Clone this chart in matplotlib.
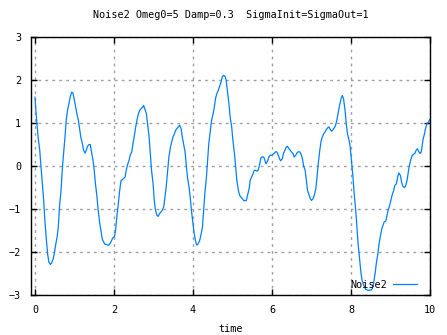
import matplotlib
matplotlib.use('Agg')
import matplotlib.pyplot as plt

# values
time = [
    0.00, 0.02, 0.05, 0.08, 0.12, 0.15, 0.18, 0.22, 0.25, 0.29, 0.32, 0.35, 0.39, 0.42, 0.46, 0.49,
    0.52, 0.56, 0.59, 0.62, 0.66, 0.69, 0.72, 0.76, 0.79, 0.83, 0.86, 0.89, 0.93, 0.96, 0.99, 1.03,
    1.06, 1.10, 1.13, 1.16, 1.20, 1.23, 1.27, 1.30, 1.33, 1.37, 1.40, 1.43, 1.47, 1.50, 1.53, 1.57,
    1.60, 1.64, 1.67, 1.70, 1.74, 1.77, 1.80, 1.84, 1.87, 1.91, 1.94, 1.97, 2.01, 2.04, 2.08, 2.11,
    2.14, 2.18, 2.21, 2.24, 2.28, 2.31, 2.34, 2.38, 2.41, 2.45, 2.48, 2.51, 2.55, 2.58, 2.62, 2.65,
    2.68, 2.72, 2.75, 2.78, 2.82, 2.85, 2.89, 2.92, 2.95, 2.99, 3.02, 3.05, 3.09, 3.12, 3.15, 3.19,
    3.22, 3.26, 3.29, 3.32, 3.36, 3.39, 3.43, 3.46, 3.49, 3.53, 3.56, 3.59, 3.63, 3.66, 3.70, 3.73,
    3.76, 3.80, 3.83, 3.86, 3.90, 3.93, 3.96, 4.00, 4.03, 4.07, 4.10, 4.13, 4.17, 4.20, 4.24, 4.27,
    4.30, 4.34, 4.37, 4.40, 4.44, 4.47, 4.51, 4.54, 4.57, 4.61, 4.64, 4.67, 4.71, 4.74, 4.77, 4.81,
    4.84, 4.87, 4.91, 4.94, 4.98, 5.01, 5.05, 5.08, 5.11, 5.15, 5.18, 5.21, 5.25, 5.28, 5.32, 5.35,
    5.38, 5.42, 5.45, 5.48, 5.52, 5.55, 5.58, 5.62, 5.65, 5.69, 5.72, 5.75, 5.79, 5.82, 5.85, 5.89,
    5.92, 5.95, 5.99, 6.02, 6.06, 6.09, 6.12, 6.16, 6.19, 6.22, 6.26, 6.29, 6.33, 6.36, 6.39, 6.43,
    6.46, 6.49, 6.53, 6.56, 6.60, 6.63, 6.66, 6.70, 6.73, 6.77, 6.80, 6.84, 6.87, 6.90, 6.94, 6.97,
    7.00, 7.04, 7.07, 7.11, 7.14, 7.17, 7.21, 7.24, 7.27, 7.31, 7.34, 7.37, 7.41, 7.44, 7.48, 7.51,
    7.54, 7.58, 7.61, 7.64, 7.68, 7.71, 7.75, 7.78, 7.81, 7.85, 7.88, 7.91, 7.95, 7.98, 8.01, 8.05,
    8.08, 8.12, 8.15, 8.18, 8.22, 8.25, 8.28, 8.32, 8.35, 8.38, 8.42, 8.45, 8.47, 8.51, 8.54, 8.57,
    8.61, 8.64, 8.68, 8.71, 8.74, 8.78, 8.81, 8.84, 8.88, 8.91, 8.94, 8.98, 9.01, 9.04, 9.08, 9.11,
    9.15, 9.18, 9.21, 9.25, 9.28, 9.31, 9.35, 9.38, 9.42, 9.45, 9.48, 9.52, 9.55, 9.58, 9.62, 9.65,
    9.68, 9.72, 9.75, 9.78, 9.82, 9.86, 9.89, 9.92, 9.96, 9.99,
]
noise2 = [
    1.60, 1.33, 0.98, 0.67, 0.37, 0.02, -0.33, -0.80, -1.26, -1.73, -2.04, -2.23, -2.29, -2.26, -2.16, -2.04,
    -1.85, -1.65, -1.42, -0.95, -0.57, -0.10, 0.25, 0.67, 1.06, 1.33, 1.45, 1.60, 1.72, 1.70, 1.57, 1.37,
    1.22, 1.06, 0.87, 0.67, 0.52, 0.37, 0.30, 0.37, 0.46, 0.50, 0.50, 0.33, 0.13, -0.10, -0.41, -0.72,
    -1.03, -1.34, -1.50, -1.69, -1.77, -1.82, -1.82, -1.84, -1.84, -1.79, -1.73, -1.67, -1.65, -1.50, -1.11, -0.88,
    -0.60, -0.33, -0.32, -0.29, -0.26, -0.10, 0.02, 0.13, 0.25, 0.33, 0.52, 0.67, 0.91, 1.06, 1.22, 1.29,
    1.33, 1.36, 1.41, 1.33, 1.22, 0.98, 0.67, 0.29, -0.10, -0.41, -0.80, -1.03, -1.15, -1.17, -1.11, -1.07,
    -1.03, -0.95, -0.72, -0.50, -0.10, 0.21, 0.44, 0.56, 0.67, 0.75, 0.83, 0.87, 0.91, 0.95, 0.87, 0.67,
    0.52, 0.33, 0.02, -0.26, -0.49, -0.72, -1.03, -1.34, -1.57, -1.77, -1.84, -1.81, -1.73, -1.61, -1.42, -1.03,
    -0.64, -0.26, 0.13, 0.52, 0.83, 1.06, 1.22, 1.37, 1.57, 1.70, 1.76, 1.84, 1.95, 2.07, 2.11, 2.09,
    1.99, 1.76, 1.45, 1.14, 0.91, 0.60, 0.29, -0.02, -0.33, -0.57, -0.68, -0.72, -0.76, -0.80, -0.81, -0.80,
    -0.68, -0.53, -0.33, -0.26, -0.18, -0.10, -0.10, -0.12, -0.10, 0.05, 0.19, 0.21, 0.21, 0.13, 0.05, 0.12,
    0.21, 0.25, 0.25, 0.27, 0.30, 0.33, 0.33, 0.25, 0.17, 0.12, 0.17, 0.29, 0.37, 0.44, 0.46, 0.40,
    0.37, 0.33, 0.29, 0.21, 0.25, 0.30, 0.33, 0.33, 0.29, 0.17, 0.00, -0.10, -0.33, -0.57, -0.68, -0.76,
    -0.80, -0.76, -0.68, -0.53, -0.26, 0.05, 0.37, 0.56, 0.67, 0.75, 0.79, 0.84, 0.89, 0.91, 0.84, 0.81,
    0.84, 0.89, 0.95, 1.06, 1.26, 1.41, 1.57, 1.64, 1.57, 1.29, 0.98, 0.75, 0.60, 0.44, 0.13, -0.26,
    -0.64, -1.03, -1.42, -1.81, -2.19, -2.47, -2.66, -2.77, -2.83, -2.87, -2.89, -2.89, -2.89, -2.88, -2.85, -2.74,
    -2.50, -2.27, -2.04, -1.81, -1.65, -1.46, -1.38, -1.30, -1.28, -1.15, -1.03, -0.91, -0.80, -0.68, -0.57, -0.45,
    -0.41, -0.26, -0.16, -0.22, -0.37, -0.47, -0.50, -0.47, -0.33, -0.14, 0.02, 0.17, 0.25, 0.27, 0.30, 0.37,
    0.40, 0.33, 0.29, 0.33, 0.60, 0.75, 0.89, 0.97, 1.02, 1.08,
]
xticks = [0, 2, 4, 6, 8, 10]
yticks = [-3, -2, -1, 0, 1, 2, 3]

plt.rcParams['font.family'] = 'DejaVu Sans Mono'
plt.rcParams['font.size'] = 7.3

fig = plt.figure(figsize=(4.47, 3.35), dpi=100)
ax = fig.add_axes([0.0694, 0.1194, 0.8926, 0.7701])

ax.plot(time, noise2, color='#0080ff', linewidth=0.9, label='Noise2')

ax.set_xlim(-0.1, 10)
ax.set_ylim(-3, 3)
ax.set_xticks(xticks)
ax.set_yticks(yticks)
ax.tick_params(direction='in', length=4, width=1, top=True, right=True, pad=7)
ax.grid(True, color='#a0a0a0', linestyle=(0, (2, 3)), linewidth=1)
for s in ax.spines.values():
    s.set_linewidth(1.0)

ax.set_xlabel('time', labelpad=7)
ax.set_title('Noise2 Omeg0=5 Damp=0.3  SigmaInit=SigmaOut=1', fontsize=7.3, pad=14)
ax.legend(loc='lower right', bbox_to_anchor=(0.98, 0.0), frameon=False, markerfirst=False,
          handlelength=2.4, borderaxespad=0.1, handletextpad=0.5)

fig.savefig('out.png', dpi=100)
